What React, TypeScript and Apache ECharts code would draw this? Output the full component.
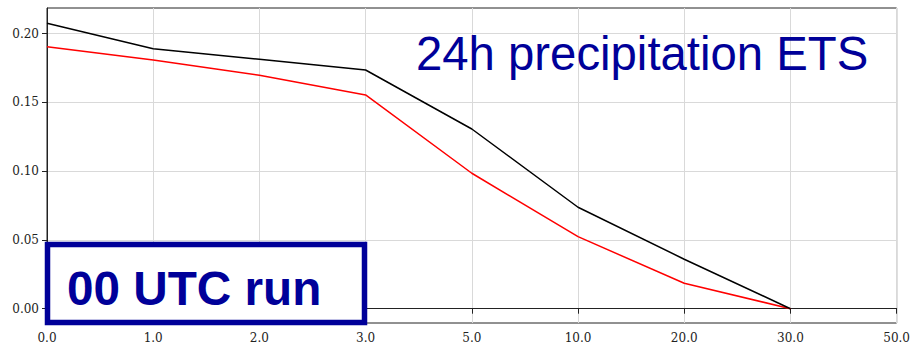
import React, { useEffect, useRef } from "react";
import * as echarts from "echarts";

// Precipitation thresholds (mm / 24h) along the x axis
const thresholds = ["0.0", "1.0", "2.0", "3.0", "5.0", "10.0", "20.0", "30.0", "50.0"];

// Equitable threat score per threshold
const etsBlack = [0.2076, 0.1891, 0.1814, 0.1736, 0.1307, 0.0738, 0.036, 0.0];
const etsRed = [0.1906, 0.1809, 0.1698, 0.1555, 0.0985, 0.0524, 0.0185, 0.0];

// Labelled y ticks
const yTicks = [0, 0.05, 0.1, 0.15, 0.2];

const labelFont = "'DejaVu Serif', 'Liberation Serif', serif";
const titleColor = "#000099";

export default function App() {
  const ref = useRef<HTMLDivElement>(null);

  useEffect(() => {
    if (!ref.current) return;
    const chart = echarts.init(ref.current, undefined, { renderer: "svg" });
    chart.setOption({
      animation: false,
      backgroundColor: "#ffffff",
      grid: {
        left: 47,
        right: 13,
        top: 8,
        bottom: 28,
        show: true,
        borderColor: "#222",
        borderWidth: 1,
        containLabel: false,
      },
      xAxis: {
        type: "category",
        data: thresholds,
        boundaryGap: false,
        axisLine: { show: true, lineStyle: { color: "#222", width: 1 } },
        axisTick: { show: true, length: 5, lineStyle: { color: "#222" } },
        axisLabel: {
          color: "#222",
          fontFamily: labelFont,
          fontSize: 12,
          margin: 9,
        },
        splitLine: { show: true, lineStyle: { color: "#d9d9d9", width: 1 } },
      },
      yAxis: {
        type: "value",
        min: -0.0104,
        max: 0.2187,
        axisLine: { show: true, lineStyle: { color: "#222", width: 1 } },
        axisTick: {
          show: true,
          length: 5,
          customValues: yTicks,
          lineStyle: { color: "#222" },
        },
        axisLabel: {
          color: "#222",
          fontFamily: labelFont,
          fontSize: 12,
          margin: 8,
          customValues: yTicks,
          formatter: (v: number) => v.toFixed(2),
        },
        splitLine: { show: true, lineStyle: { color: "#d9d9d9", width: 1 } },
      },
      series: [
        {
          type: "line",
          data: etsBlack,
          symbol: "none",
          lineStyle: { color: "#000000", width: 1.5 },
          z: 3,
        },
        {
          type: "line",
          data: etsRed,
          symbol: "none",
          lineStyle: { color: "#ff0000", width: 1.5 },
          z: 2,
        },
      ],
      graphic: [
        {
          type: "text",
          left: 416,
          top: 30,
          z: 10,
          style: {
            text: "24h precipitation ETS",
            fill: titleColor,
            font: "47.3px 'Liberation Sans', Arial, sans-serif",
          },
        },
        {
          type: "rect",
          z: 10,
          shape: { x: 47.5, y: 244.5, width: 317, height: 78 },
          style: { fill: "#ffffff", stroke: titleColor, lineWidth: 5.5 },
        },
        {
          type: "text",
          left: 67,
          top: 264,
          z: 11,
          style: {
            text: "00 UTC run",
            fill: titleColor,
            font: "bold 47.7px 'Liberation Sans', Arial, sans-serif",
          },
        },
      ],
    });
    return () => chart.dispose();
  }, []);

  return (
    <div
      ref={ref}
      style={{ position: "fixed", left: 0, top: 0, width: 913, height: 351 }}
    />
  );
}
